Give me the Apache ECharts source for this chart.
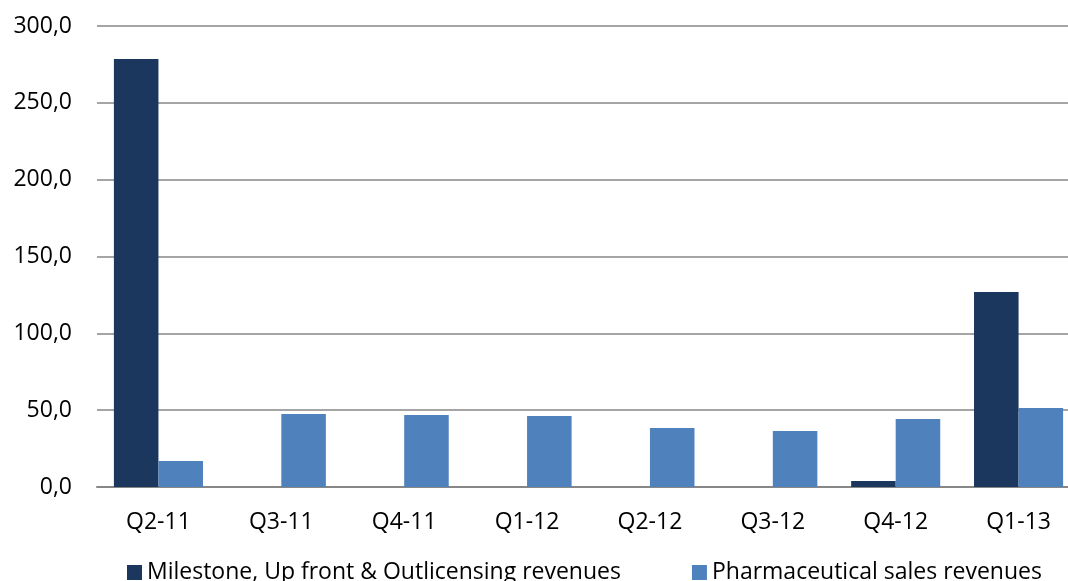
<!DOCTYPE html>
<html>
<head>
<meta charset="utf-8">
<script src="https://cdn.jsdelivr.net/npm/echarts@6/dist/echarts.min.js"></script>
<style>
  html, body { margin: 0; padding: 0; background: #fff; }
  #chart { width: 1068px; height: 581px; }
</style>
</head>
<body>
<div id="chart"></div>
<script>
const quarters = ['Q2-11', 'Q3-11', 'Q4-11', 'Q1-12', 'Q2-12', 'Q3-12', 'Q4-12', 'Q1-13']
const milestoneRevenues = [278.5, 0, 0, 0, 0, 0, 3.9, 126.9]
const pharmaSalesRevenues = [17.0, 47.5, 46.9, 46.2, 38.4, 36.4, 44.2, 51.4]
const seriesNames = ['Milestone, Up front & Outlicensing revenues', 'Pharmaceutical sales revenues']

const FONT = '"Open Sans", "Noto Sans", sans-serif'
const fmt = v => v.toFixed(1).replace('.', ',')

const chart = echarts.init(document.getElementById('chart'))
chart.setOption({
  animation: false,
  textStyle: { fontFamily: FONT },
  grid: { left: 97, width: 983, top: 26, bottom: 94, containLabel: false, outerBoundsMode: 'none' },
  legend: {
    data: seriesNames,
    top: 556,
    left: 122,
    itemWidth: 15,
    itemHeight: 15,
    itemGap: 71,
    itemTextGap: 6,
    icon: 'rect',
    textStyle: { fontFamily: FONT, fontSize: 23, color: '#000' },
  },
  xAxis: {
    type: 'category',
    data: quarters,
    axisLine: { lineStyle: { color: '#878787', width: 2 } },
    axisTick: { show: false },
    axisLabel: { color: '#000', fontSize: 23, fontFamily: FONT, margin: 24 },
  },
  yAxis: {
    type: 'value',
    min: 0,
    max: 300,
    interval: 50,
    axisLine: { show: false },
    axisTick: { show: false },
    splitLine: { lineStyle: { color: '#878787', width: 1.5 } },
    axisLabel: { color: '#000', fontSize: 23, fontFamily: FONT, margin: 25, formatter: fmt },
  },
  series: [
    {
      name: seriesNames[0],
      type: 'bar',
      data: milestoneRevenues,
      barGap: '0%',
      barCategoryGap: '27.5%',
      itemStyle: { color: '#1b375e' },
    },
    {
      name: seriesNames[1],
      type: 'bar',
      data: pharmaSalesRevenues,
      barGap: '0%',
      barCategoryGap: '27.5%',
      itemStyle: { color: '#4f81bd' },
    },
  ],
})
</script>
</body>
</html>
